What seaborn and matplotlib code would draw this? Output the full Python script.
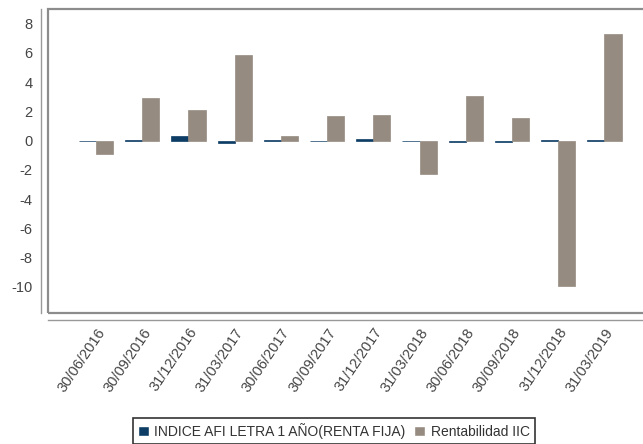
import numpy as np
import pandas as pd
import seaborn as sns
import matplotlib.pyplot as plt
from matplotlib.patches import Rectangle

fechas = ['30/06/2016', '30/09/2016', '31/12/2016', '31/03/2017', '30/06/2017', '30/09/2017',
          '31/12/2017', '31/03/2018', '30/06/2018', '30/09/2018', '31/12/2018', '31/03/2019']
indice_afi = [-0.03, 0.02, 0.28, -0.17, 0.04, 0.0, 0.08, -0.05, -0.07, -0.12, 0.07, 0.01]
rentabilidad_iic = [-0.91, 2.88, 2.1, 5.84, 0.34, 1.71, 1.76, -2.28, 3.06, 1.55, -9.93, 7.3]
series = ['INDICE AFI LETRA 1 AÑO(RENTA FIJA)', 'Rentabilidad IIC']
colores = ['#0d3c64', '#968b80']

df = pd.DataFrame({
    'fecha': fechas * 2,
    'valor': indice_afi + rentabilidad_iic,
    'serie': [series[0]] * len(fechas) + [series[1]] * len(fechas),
})

sns.set_style('white')
plt.rcParams['font.family'] = ['Liberation Sans', 'DejaVu Sans']
plt.rcParams['axes.unicode_minus'] = False

fig = plt.figure(figsize=(6.43, 4.44), dpi=100)
ax = fig.add_axes([48 / 643, 1 - 313 / 444, 598 / 643, 304 / 444])

sns.barplot(data=df, x='fecha', y='valor', hue='serie', palette=colores,
            width=0.74, saturation=1, ax=ax, legend=True)
# thin edge so near-zero bars still show as a line
for p in ax.patches:
    p.set_edgecolor(p.get_facecolor())
    p.set_linewidth(0.5)

ax.set_xlim(-1.04, 11.9)
ax.set_ylim(-11.8, 9.0)
ax.set_yticks(np.arange(-10, 9, 2))
ax.set_xlabel('')
ax.set_ylabel('')

# outer frame plus offset axis lines
for s in ['top', 'right']:
    ax.spines[s].set_visible(False)
for s in ['left', 'bottom']:
    ax.spines[s].set_position(('outward', 5))
    ax.spines[s].set_color('#999999')
    ax.spines[s].set_linewidth(1.0)
ax.add_patch(Rectangle((0, 0), 1, 1, transform=ax.transAxes, fill=False,
                       edgecolor='#8c8c8c', linewidth=1.6, clip_on=False))

ax.tick_params(axis='both', which='both', direction='out', length=3, width=0.8,
               color='#999999', labelcolor='#444444')
ax.tick_params(axis='y', labelsize=10.5, pad=3)
ax.tick_params(axis='x', labelsize=10.5, pad=1)
plt.setp(ax.get_xticklabels(), rotation=56, ha='right', rotation_mode='anchor')

ax.get_legend().remove()
handles = [Rectangle((0, 0), 1, 1, facecolor=c) for c in colores]
leg = fig.legend(handles, series, loc='upper center', bbox_to_anchor=(0.519, 0.059),
                 ncol=2, fontsize=10, frameon=True, fancybox=False,
                 handlelength=0.8, handleheight=0.8, handletextpad=0.4,
                 columnspacing=0.6, borderpad=0.35, borderaxespad=0)
leg.get_frame().set_edgecolor('black')
leg.get_frame().set_linewidth(1.2)
for t in leg.get_texts():
    t.set_color('#333333')

fig.savefig('out.png', dpi=100)
